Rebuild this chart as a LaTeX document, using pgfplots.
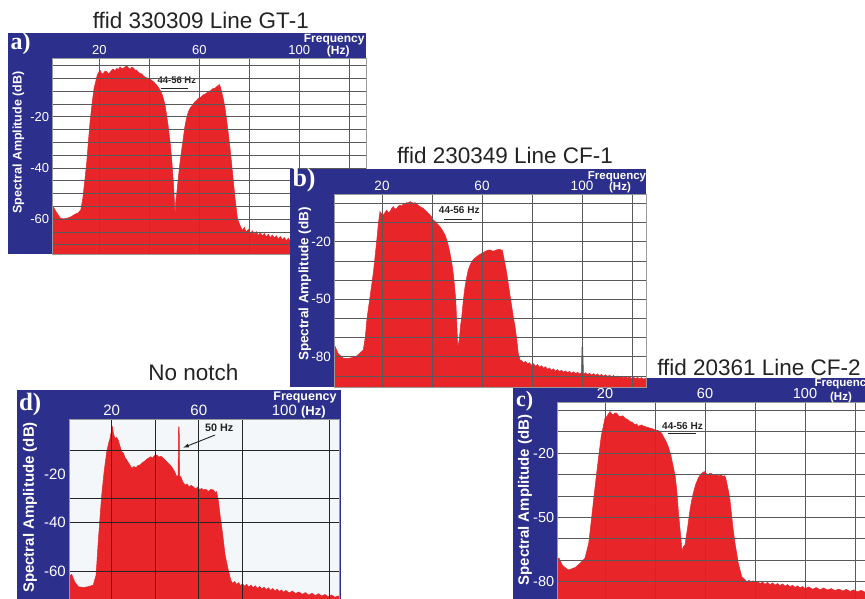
\documentclass[border=0pt]{standalone}
\usepackage{pgfplots}
\pgfplotsset{compat=1.18}
\usepackage{fontspec}
\setmainfont{Liberation Sans}
\newfontfamily\lserif{Liberation Serif}
\definecolor{fblue}{RGB}{44,48,140}
\definecolor{sred}{RGB}{232,38,42}
\definecolor{dbg}{RGB}{243,247,249}
\definecolor{ttl}{RGB}{35,35,35}
\newcommand{\fs}[1]{\fontsize{#1}{#1}\selectfont}
\pgfplotsset{
  panel/.style={
    scale only axis, axis on top,
    axis background/.style={fill=white},
    axis line style={draw=black!40, line width=0.6pt},
    tick style={draw=none},
    xticklabel pos=upper,
    grid style={draw=black!65, line width=0.7pt},
    minor grid style={draw=black!65, line width=0.7pt},
    xticklabel style={text=white, font=\fs{13}},
    yticklabel style={text=white, font=\fs{13}},
  },
  spec/.style={fill=sred, draw=sred, line width=0.5pt},
}
\begin{document}
\begin{tikzpicture}[x=1pt,y=1pt]
\useasboundingbox (0,0) rectangle (865,598);
\clip (0,0) rectangle (865,598);
% ---------------- panel a ----------------
\node[anchor=base, text=ttl, font=\fs{22.5}] at (200.8,569.7) {ffid 330309 Line GT-1};
\fill[fblue] (8.3,343.5) rectangle (366,564.7);
\begin{axis}[panel, at={(52.7pt,343.5pt)}, anchor=south west,
  width=313.3pt, height=196.2pt,
  xmin=1.36, xmax=126.68, ymin=-73.83, ymax=2.81,
  xtick={20,40,60,80,100,120}, xticklabels={20,,60,,100,},
  ytick={-60,-40,-20}, yticklabels={-60,-40,-20},
  minor ytick={-70,-65,...,0},
  xmajorgrids, ymajorgrids, yminorgrids]
\addplot[spec] coordinates {(1.36,-200) (1.36,-54.8) (2.7,-57.1) (4.3,-59.5) (5.5,-59.9) (7,-59.7) (8.5,-59.2) (10.3,-58.1) (11.5,-57.6) (12.6,-56.4) (13.4,-51.9) (14.2,-45) (15,-37.6) (15.7,-29) (16.3,-22) (17.1,-15) (17.9,-8.9) (19.2,-3.7) (20.3,-1.8) (20.9,-3.2) (21.6,-3.1) (22.3,-2.2) (23,-2.4) (23.6,-3.3) (24.3,-2.7) (25,-1.8) (25.6,-1.4) (26.3,-2) (27,-1.1) (27.6,-1.6) (28.3,-0.5) (29,-1.3) (29.6,-1.1) (30.3,-0.6) (30.9,-0.1) (31.6,-0.9) (32.3,-1.4) (33,-0.7) (33.6,-0.9) (34.3,-1.9) (34.9,-1.8) (35.6,-2.6) (36.3,-3.1) (37,-3.3) (37.6,-4.0) (38.3,-4.6) (38.9,-4.8) (39.6,-5.0) (40.3,-5.3) (41,-5.9) (41.6,-6.3) (42.3,-7.0) (42.9,-7.6) (43.6,-8.5) (44.3,-9.6) (45,-11) (45.6,-12.8) (46.3,-15.5) (46.9,-19.3) (47.6,-24) (48.3,-29.8) (49,-37) (49.6,-45.4) (50.0,-52) (50.3,-58.4) (50.6,-53) (50.9,-50.6) (51.4,-46) (52.0,-40.2) (52.8,-34) (53.6,-28.5) (54.2,-24) (54.9,-20.6) (55.6,-18.2) (56.3,-16.7) (57.3,-15.4) (58.3,-14.1) (59,-13.6) (59.6,-12.8) (60.6,-12.4) (61.6,-11.5) (62.6,-11) (63.6,-10.2) (64.6,-9.8) (65.6,-8.9) (66.3,-8.9) (66.9,-8.3) (67.5,-7.9) (68.0,-7.4) (68.5,-8.6) (68.9,-10.2) (69.6,-13) (70.3,-16.7) (71.3,-24) (72.3,-32.4) (73.3,-42) (74.3,-51.9) (75.3,-60) (76.3,-62.5) (77.3,-64.5) (78,-63.2) (78.8,-65.1) (79.6,-64) (80.4,-65.8) (81.2,-64.6) (82,-66) (82.8,-64.9) (83.6,-66.4) (84.4,-65.3) (85.2,-66.6) (86,-65.6) (86.8,-66.9) (87.6,-65.9) (88.4,-67.2) (89.2,-66.2) (90,-67.4) (90.8,-66.5) (91.6,-67.8) (92.4,-66.8) (93.2,-68) (94,-67.2) (94.8,-68.4) (95.6,-67.5) (96.4,-68.6) (97.2,-67.8) (100,-69) (103,-68.8) (106,-69.6) (110,-70) (114,-70.3) (118,-70.6) (122,-70.8) (126.68,-71) (126.68,-200)};
\node[anchor=base, font=\bfseries\fs{9.5}, text=ttl] at (axis cs:51,-7.2) {44-56 Hz};
\draw[ttl, line width=1.3pt] (axis cs:44.6,-8.9) -- (axis cs:55.6,-8.9);
\end{axis}
\node[anchor=base west, text=white, font=\lserif\bfseries\fs{24}] at (7,548) {a)};
\node[anchor=base, text=white, font=\bfseries\fs{12}] at (334.2,555) {Frequency};
\node[anchor=base, text=white, font=\bfseries\fs{12}] at (338.3,543) {(Hz)};
\node[rotate=90, text=white, font=\bfseries\fs{12.5}] at (18.3,455.5) {Spectral Amplitude (dB)};
% ---------------- panel c ----------------
\node[anchor=base, text=ttl, font=\fs{22.5}] at (759,222.3) {ffid 20361 Line CF-2};
\fill[fblue] (513.3,-12) rectangle (875,219.7);
\begin{axis}[panel, at={(557.7pt,-12pt)}, anchor=south west,
  width=315.3pt, height=207.6pt,
  xmin=1.08, xmax=127.2, ymin=-93.3, ymax=3.75,
  xticklabel style={text=white, font=\fs{14.5}},
  yticklabel style={text=white, font=\fs{14.5}},
  xtick={20,40,60,80,100,120}, xticklabels={20,,60,,100,},
  ytick={-80,-50,-20}, yticklabels={-80,-50,-20},
  minor ytick={-90,-80,...,0},
  xmajorgrids, ymajorgrids, yminorgrids]
\addplot[spec] coordinates {(1.08,-200) (1.08,-69) (1.6,-69.1) (3,-72.5) (5.3,-74.6) (8,-73.5) (10,-71.5) (12,-69.1) (13.5,-62) (14.7,-49.6) (16,-36) (17.3,-23.1) (18.5,-12) (20,-3.65) (20.7,-2.9) (21.3,-1.8) (22,-0.5) (22.6,-1.6) (23.3,-2.0) (24,-1.2) (24.7,-1.3) (25.3,-2.4) (26,-2.9) (27,-2.5) (28,-3.65) (29,-4.2) (30,-5.2) (31,-5.6) (32,-6.8) (32.7,-6.3) (33.3,-7.55) (34,-7.0) (34.7,-6.8) (35.3,-7.3) (36,-7.55) (37,-7.9) (38,-8.3) (39,-8.6) (40,-9.1) (41,-9.3) (42,-9.9) (42.7,-10.8) (43.3,-12.2) (44.3,-14.2) (45.3,-16.9) (46.3,-20.8) (47.3,-26.25) (48.1,-31) (48.7,-37.2) (49.3,-46.5) (49.8,-53) (50.3,-59) (50.8,-66) (51.3,-63.65) (52,-62.9) (52.5,-59) (53.1,-54.3) (54,-46.5) (54.6,-42.5) (55.3,-38.7) (56.3,-34.5) (57.3,-31.7) (58,-30.3) (58.7,-29.4) (59.7,-28.6) (60.5,-29.5) (61.3,-30.2) (62,-29.4) (62.7,-29.6) (63.5,-30.4) (64.3,-29.9) (65.3,-30.6) (66.3,-30.2) (67.3,-30.9) (67.8,-30.5) (68.3,-31.7) (69.3,-37.2) (70,-42) (70.7,-49.6) (71.3,-56) (72,-62.1) (72.7,-67) (73.3,-71.4) (74.7,-77.7) (76,-79.2) (76.8,-80.2) (77.6,-79.4) (78.4,-80.5) (79.2,-79.6) (80,-80.7) (81,-79.9) (82,-81.0) (83,-80.2) (84,-81.3) (85,-80.4) (86,-81.5) (87,-80.6) (88,-81.7) (89,-80.9) (90,-82.0) (91,-81.1) (92,-82.2) (93,-81.4) (94,-82.5) (95,-81.7) (96,-82.8) (97,-82.0) (98,-83.0) (99,-82.3) (100,-83.3) (101.5,-82.5) (103,-83.6) (104.5,-82.8) (106,-83.8) (107.5,-83.0) (109,-84.0) (110.5,-83.3) (112,-84.2) (113.5,-83.5) (115,-84.4) (116.5,-83.7) (118,-84.6) (119.5,-83.9) (121,-84.8) (122.5,-84.1) (124,-85.0) (125.5,-84.3) (127.2,-85.0) (127.2,-200)};
\node[anchor=base, font=\bfseries\fs{10}, text=ttl] at (axis cs:51,-8.8) {44-56 Hz};
\draw[ttl, line width=1.3pt] (axis cs:45.1,-10.7) -- (axis cs:56.3,-10.7);
\end{axis}
\node[anchor=base west, text=white, font=\lserif\bfseries\fs{22}] at (512.5,191.3) {c)};
\node[anchor=base west, text=white, font=\bfseries\fs{11.5}] at (811,211.8) {Frequency};
\node[anchor=base, text=white, font=\bfseries\fs{11.5}] at (841,198) {(Hz)};
\node[rotate=90, text=white, font=\bfseries\fs{15}] at (525,98) {Spectral Amplitude (dB)};
% ---------------- panel b ----------------
\node[anchor=base, text=ttl, font=\fs{22.5}] at (505,434.7) {ffid 230349 Line CF-1};
\fill[fblue] (290,211) rectangle (646,428.7);
\begin{axis}[panel, at={(334.3pt,211pt)}, anchor=south west,
  width=311.7pt, height=193pt,
  xmin=0.92, xmax=125.6, ymin=-95.8, ymax=4.88,
  xticklabel style={text=white, font=\fs{13.5}},
  yticklabel style={text=white, font=\fs{13.5}},
  xtick={20,40,60,80,100,120}, xticklabels={20,,60,,100,},
  ytick={-80,-50,-20}, yticklabels={-80,-50,-20},
  minor ytick={-90,-80,...,0},
  xmajorgrids, ymajorgrids, yminorgrids]
\addplot[spec] coordinates {(0.92,-200) (0.92,-76) (1.3,-74.8) (2.5,-78.5) (4.5,-80.8) (6,-81) (8,-80.5) (10,-79.5) (12.5,-76.5) (13.3,-70) (14,-60) (15.3,-48) (16.5,-36.5) (17.3,-27) (18,-18) (18.6,-10) (19.2,-4.3) (19.8,-5.5) (20.5,-6.1) (21.2,-4.8) (21.9,-3.5) (22.5,-4.9) (23.2,-4.3) (23.9,-2.6) (24.5,-1.7) (25.2,-3.0) (25.9,-2.6) (26.5,-1.5) (27.2,-0.9) (27.9,-1.4) (28.5,-0.3) (29.2,-0.6) (29.9,0.4) (30.5,0.2) (31.2,0.9) (31.9,0.5) (32.5,0) (33.2,0.4) (33.9,-0.3) (34.5,-1.0) (35.2,-1.7) (35.9,-2.2) (36.5,-2.6) (37.2,-3.6) (37.9,-4.3) (38.5,-5.2) (39.2,-6.1) (39.9,-7.2) (40.5,-8.7) (41.2,-9.4) (41.9,-10.4) (42.5,-11.2) (43.2,-12.2) (43.9,-13.6) (44.5,-14.8) (45.2,-16.5) (45.9,-19.1) (46.6,-22.4) (47.2,-26.1) (47.9,-31) (48.5,-36.5) (49.0,-43) (49.5,-50.4) (49.9,-62) (50.3,-74.8) (50.9,-71.3) (51.4,-64) (51.9,-59.1) (52.5,-51) (53.2,-43.5) (53.9,-38.5) (54.5,-34.8) (55.2,-32.3) (55.9,-30.4) (56.9,-28.8) (57.9,-27.8) (58.9,-26.8) (59.9,-26.1) (60.5,-25.6) (61.2,-25.2) (62.2,-24.5) (63.2,-24.3) (64.2,-24.9) (65.2,-24.7) (66.2,-24.1) (67.2,-24.0) (67.7,-24.6) (68.1,-24.3) (68.9,-29.5) (69.7,-35) (70.5,-41.7) (71.2,-48) (71.9,-53.9) (72.5,-59) (73.2,-64.3) (73.9,-71) (74.5,-78.2) (75.2,-81.7) (75.8,-82.0) (76.6,-83.3) (77.4,-82.4) (78.2,-83.9) (79,-83.1) (79.8,-84.6) (80.6,-83.6) (81.4,-85.0) (82.2,-84.1) (83,-85.5) (83.8,-84.7) (84.6,-86.0) (85.4,-85.2) (86.2,-86.6) (87,-85.9) (87.8,-87.2) (88.6,-86.3) (89.4,-87.6) (90.2,-86.7) (91,-87.9) (91.8,-87.0) (92.6,-88.2) (93.4,-87.4) (94.2,-88.4) (95,-87.6) (95.8,-88.7) (96.6,-87.9) (97.4,-88.9) (98.2,-88.1) (99,-89.0) (99.7,-88.4) (100.0,-74.8) (100.3,-74.8) (100.6,-89.2) (101.4,-88.4) (102.2,-89.4) (103,-88.6) (103.8,-89.6) (104.6,-88.8) (105.4,-89.8) (106.2,-89.0) (107,-90.0) (107.8,-89.2) (108.6,-90.2) (109.4,-89.4) (110.2,-90.4) (111,-89.6) (111.8,-90.6) (112.6,-89.8) (113.4,-90.8) (114.2,-90.0) (115,-91.0) (115.8,-90.2) (116.6,-91.1) (117.4,-90.4) (118.2,-91.2) (119,-90.5) (119.8,-91.4) (120.6,-90.7) (121.4,-91.5) (122.2,-90.8) (123,-91.6) (123.8,-90.9) (124.6,-91.7) (125.6,-91.2) (125.6,-200)};
\node[anchor=base, font=\bfseries\fs{10}, text=ttl] at (axis cs:50.9,-5.5) {44-56 Hz};
\draw[ttl, line width=1.3pt] (axis cs:44.8,-8.3) -- (axis cs:55.9,-8.3);
\end{axis}
\node[anchor=base west, text=white, font=\lserif\bfseries\fs{26}] at (289,411.3) {b)};
\node[anchor=base, text=white, font=\bfseries\fs{11.5}] at (617,418.3) {Frequency};
\node[anchor=base, text=white, font=\bfseries\fs{11.5}] at (620,407) {(Hz)};
\node[rotate=90, text=white, font=\bfseries\fs{13.5}] at (305,314) {Spectral Amplitude (dB)};
% ---------------- panel d ----------------
\node[anchor=base, text=ttl, font=\fs{22.5}] at (193.3,217.3) {No notch};
\fill[fblue] (16.7,-12) rectangle (341,208);
\begin{axis}[panel, at={(69.3pt,-12pt)}, anchor=south west,
  width=270pt, height=190.7pt,
  axis background/.style={fill=dbg},
  xmin=0.5, xmax=124.58, ymin=-76.1, ymax=2.69,
  grid style={draw=black!85, line width=0.9pt},
  xticklabel style={text=white, font=\fs{15}},
  yticklabel style={text=white, font=\fs{15}},
  xtick={20,40,60,80,120}, xticklabels={20,,60,,},
  ytick={-60,-40,-30,-10}, yticklabels={-60,-40,,},
  extra y ticks={-20}, extra y tick labels={-20},
  extra y tick style={grid=none},
  xmajorgrids, ymajorgrids]
\addplot[spec] coordinates {(0.5,-200) (0.5,-62) (1.6,-61.4) (3,-64.5) (4.7,-66.5) (7,-66.8) (9,-66.5) (11.5,-65.8) (12.8,-61.7) (13.8,-47.9) (14.6,-38) (15.4,-28.6) (16.5,-19) (17.7,-10.7) (18.5,-7.5) (19.2,-5.2) (19.8,-2.5) (20.3,-0.4) (20.9,-3.6) (21.5,-5.2) (22.2,-4.8) (23,-5.9) (23.8,-8.5) (24.6,-10.7) (25.4,-11.3) (26.1,-13.2) (26.9,-14.1) (27.7,-15.3) (28.5,-16.4) (29.2,-17.6) (30.2,-16.8) (31.1,-17.4) (32,-16.4) (33,-16.2) (34,-15.3) (35,-14.7) (36,-13.9) (36.8,-13.4) (37.8,-12.8) (38.7,-13.3) (39.7,-12.3) (40.7,-12.1) (41.7,-12.9) (42.7,-12.6) (43.7,-13.4) (44.7,-14.3) (45.8,-15.3) (46.8,-16.2) (47.8,-17.3) (48.8,-18.8) (49.9,-21) (50.5,-20.5) (50.7,-0.4) (51.0,-0.4) (51.2,-20.8) (51.7,-21) (52.7,-23.2) (53.7,-24.5) (54.6,-24) (55.6,-25.3) (56.5,-24.6) (57.5,-25.2) (58.5,-26.1) (59.5,-25.3) (60.5,-26.4) (61.3,-25.8) (62.1,-26.5) (63.2,-26.2) (64.3,-27.1) (65.5,-26.3) (66.7,-26.5) (67.5,-27.6) (68.2,-27.2) (69,-31) (69.8,-36.9) (71,-45) (72.1,-53.4) (73.4,-59) (74.7,-63.7) (75.6,-65.2) (76.5,-64.3) (77.4,-65.6) (78.3,-64.8) (79.2,-66.0) (80.1,-65.2) (81,-66.3) (82,-65.5) (83,-66.6) (84,-65.8) (85,-66.9) (86,-66.1) (87,-67.2) (88,-66.4) (89,-67.4) (90,-66.7) (91,-67.7) (92,-66.9) (93,-68.0) (94,-67.2) (95,-68.3) (96,-67.5) (97,-68.5) (98,-67.8) (99,-68.8) (100,-68.0) (101.5,-69.0) (103,-68.3) (104.5,-69.3) (106,-68.6) (107.5,-69.6) (109,-68.9) (110.5,-69.9) (112,-69.2) (113.5,-70.1) (115,-69.4) (116.5,-70.3) (118,-69.7) (119.5,-70.6) (121,-69.9) (122.5,-70.8) (124.58,-70.2) (124.58,-200)};
\node[anchor=base, font=\bfseries\fs{10.8}, text=ttl] at (axis cs:69.4,-2.4) {50 Hz};
\draw[ttl, line width=0.9pt, -latex] (axis cs:67.5,-3.8) -- (axis cs:52.9,-9.0);
\end{axis}
\node[anchor=base west, text=white, font=\lserif\bfseries\fs{25}] at (15.5,188) {d)};
\node[anchor=base, text=white, font=\bfseries\fs{12.5}] at (305,198) {Frequency};
\node[anchor=base west, text=white, font=\fs{15}, inner sep=0pt] at (271.7,183) {100 {\bfseries\fs{13}(Hz)}};
\node[rotate=90, text=white, font=\bfseries\fs{15}] at (30,90.5) {Spectral Amplitude (dB)};
\end{tikzpicture}
\end{document}
